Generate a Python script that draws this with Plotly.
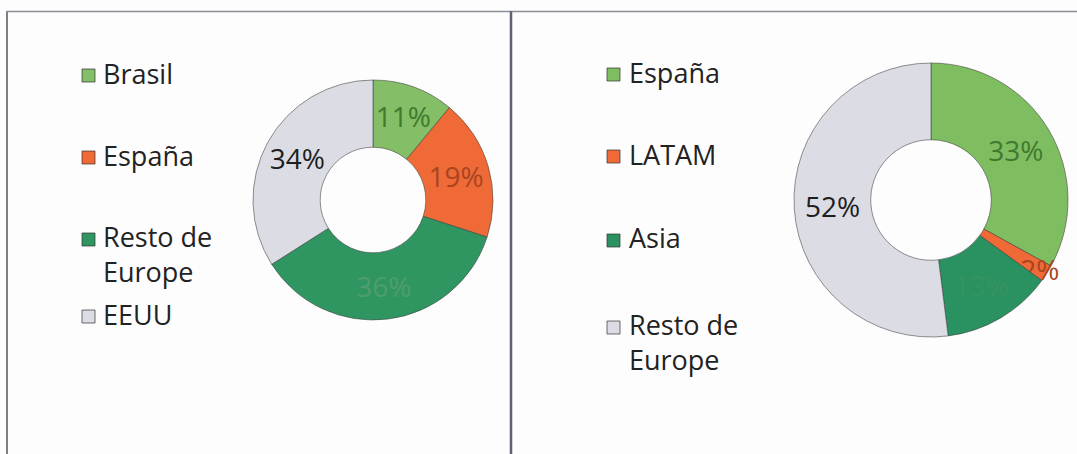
import textwrap
import plotly.graph_objects as go

W, H = 1077, 454

# ---- data ----
left_labels = ["Brasil", "España", "Resto de Europe", "EEUU"]
left_values = [11, 19, 36, 34]
right_labels = ["España", "LATAM", "Asia", "Resto de Europe"]
right_values = [33, 2, 13, 52]

left_colors = ["#84be66", "#ef6a37", "#2f9662", "#dcdde4"]
right_colors = ["#7fbd61", "#ef6a37", "#2a9260", "#dcdde4"]
left_text_colors = ["#3f7a2e", "#a8451f", "#4f9c6e", "#1e1e1e"]
right_text_colors = ["#3f7a2e", "#a8451f", "#35935f", "#1e1e1e"]


def px_x(x):
    return x / W


def px_y(y):
    return 1 - y / H


fig = go.Figure()


def add_donut(labels, values, colors, tcolors, cx, cy, r, hole):
    fig.add_trace(go.Pie(
        labels=labels,
        values=values,
        sort=False,
        direction="clockwise",
        rotation=0,
        hole=hole,
        marker=dict(colors=colors, line=dict(color="rgba(60,60,60,0.55)", width=1)),
        texttemplate="%{percent:.0%}",
        textposition="inside",
        insidetextorientation="horizontal",
        textfont=dict(family="Open Sans", size=28, color=tcolors),
        showlegend=False,
        domain=dict(x=[px_x(cx - r), px_x(cx + r)], y=[px_y(cy + r), px_y(cy - r)]),
    ))


add_donut(left_labels, left_values, left_colors, left_text_colors, 373, 200, 120, 0.44)
add_donut(right_labels, right_values, right_colors, right_text_colors, 931, 200, 137, 0.44)

shapes = []
annotations = []


def add_legend(labels, colors, marker_x, text_x, ys):
    for lab, col, y in zip(labels, colors, ys):
        lines = textwrap.wrap(lab, 9)
        txt = "<br>".join(lines)
        n = len(lines)
        center = y + (n - 1) * 17
        annotations.append(dict(
            x=px_x(text_x), y=px_y(center), xref="paper", yref="paper",
            xanchor="left", yanchor="middle", align="left",
            text=txt, showarrow=False,
            font=dict(family="Open Sans", size=27, color="#222222"),
        ))
        shapes.append(dict(
            type="rect", xref="paper", yref="paper",
            x0=px_x(marker_x), x1=px_x(marker_x + 13),
            y0=px_y(y + 9), y1=px_y(y - 4),
            fillcolor=col, line=dict(color="rgba(50,50,50,0.7)", width=1),
        ))


add_legend(left_labels, left_colors, 82, 101, [73, 155, 237, 314])
add_legend(right_labels, right_colors, 607, 627, [72, 154, 238, 325])

# panel borders
line_col = "#7d7f88"
shapes += [
    dict(type="line", xref="paper", yref="paper", x0=px_x(7), x1=px_x(7),
         y0=px_y(11), y1=0, line=dict(color=line_col, width=2)),
    dict(type="line", xref="paper", yref="paper", x0=px_x(7), x1=1,
         y0=px_y(11.5), y1=px_y(11.5), line=dict(color="#8c8e96", width=1.5)),
    dict(type="line", xref="paper", yref="paper", x0=px_x(511), x1=px_x(511),
         y0=px_y(11), y1=0, line=dict(color="#5f6270", width=2.5)),
]

fig.update_layout(
    width=W, height=H,
    margin=dict(l=0, r=0, t=0, b=0),
    paper_bgcolor="#fdfdfd",
    plot_bgcolor="#fdfdfd",
    shapes=shapes,
    annotations=annotations,
    uniformtext=dict(minsize=28, mode="show"),
)

fig.write_html("out.html", config={"displayModeBar": False},
               post_script="document.body.style.margin='0';")
